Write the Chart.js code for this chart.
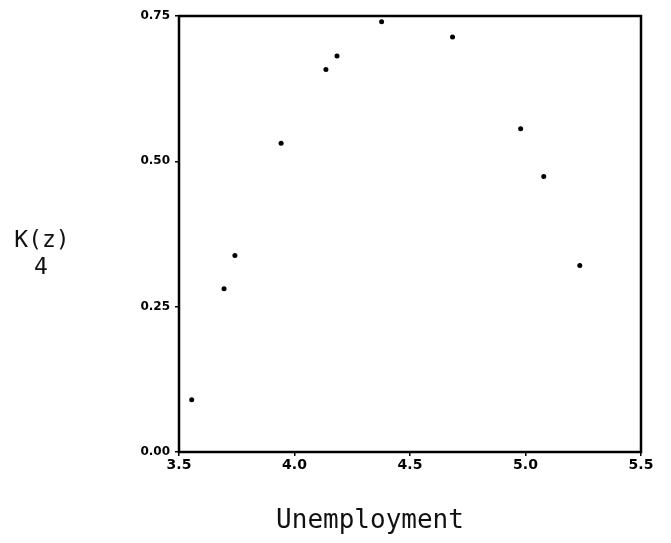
<!DOCTYPE html>
<html>
<head>
<meta charset="utf-8">
<script src="https://cdn.jsdelivr.net/npm/chart.js@4/dist/chart.umd.min.js"></script>
<style>
  html, body { margin: 0; padding: 0; background: #fff; }
  #wrap { width: 671px; height: 543px; }
</style>
</head>
<body>
<div id="wrap"><canvas id="c" width="671" height="543"></canvas></div>
<script>
// Unemployment rate against the fourth-order statistic K(z)
const unemployment = [3.555, 3.695, 3.742, 3.942, 4.136, 4.184, 4.377, 4.684, 4.979, 5.079, 5.235];
const kz4 = [0.090, 0.281, 0.338, 0.531, 0.658, 0.681, 0.740, 0.714, 0.556, 0.474, 0.321];

const xTicks = [3.5, 4.0, 4.5, 5.0, 5.5];
const yTicks = [0.00, 0.25, 0.50, 0.75];

const points = unemployment.map((u, i) => ({ x: u, y: kz4[i] }));

// Frame around the plotting area plus the axis captions
const framePlugin = {
  id: 'frame',
  afterDraw(chart) {
    const { ctx, chartArea: a } = chart;
    ctx.save();
    ctx.strokeStyle = '#000';
    ctx.lineWidth = 2.5;
    ctx.strokeRect(a.left, a.top, a.right - a.left, a.bottom - a.top);

    ctx.fillStyle = '#111';
    ctx.textAlign = 'center';
    ctx.textBaseline = 'middle';
    ctx.font = '23px "DejaVu Sans Mono"';
    ctx.fillText('K(z)', 42, 241);
    ctx.fillText('4', 41, 268);

    ctx.font = '26px "DejaVu Sans Mono"';
    ctx.fillText('Unemployment', 370, 521);
    ctx.restore();
  }
};

new Chart(document.getElementById('c'), {
  type: 'scatter',
  data: {
    datasets: [{
      data: points,
      backgroundColor: '#000',
      borderColor: '#000',
      pointRadius: 2.5,
      pointHoverRadius: 2.5,
      borderWidth: 0
    }]
  },
  options: {
    responsive: false,
    animation: false,
    events: [],
    layout: { padding: { left: 0, right: 30, top: 16, bottom: 0 } },
    plugins: { legend: { display: false }, tooltip: { enabled: false } },
    scales: {
      x: {
        type: 'linear',
        min: 3.5, max: 5.5,
        afterBuildTicks(scale) { scale.ticks = xTicks.map(v => ({ value: v })); },
        afterFit(scale) { scale.height = 91; },
        grid: { display: true, drawOnChartArea: false, drawTicks: true, tickLength: 4, color: '#000', lineWidth: 1.5 },
        border: { display: false },
        ticks: {
          color: '#000',
          padding: 1,
          maxRotation: 0,
          font: { family: 'DejaVu Sans', size: 14, weight: 'bold' },
          callback: v => Number(v).toFixed(1)
        }
      },
      y: {
        type: 'linear',
        min: 0, max: 0.75,
        afterBuildTicks(scale) { scale.ticks = yTicks.map(v => ({ value: v })); },
        afterFit(scale) { scale.width = 179; },
        grid: { display: true, drawOnChartArea: false, drawTicks: true, tickLength: 4, color: '#000', lineWidth: 1.5 },
        border: { display: false },
        ticks: {
          color: '#000',
          padding: 5,
          font: { family: 'DejaVu Sans', size: 12, weight: 'bold' },
          callback: v => Number(v).toFixed(2)
        }
      }
    }
  },
  plugins: [framePlugin]
});
</script>
</body>
</html>
